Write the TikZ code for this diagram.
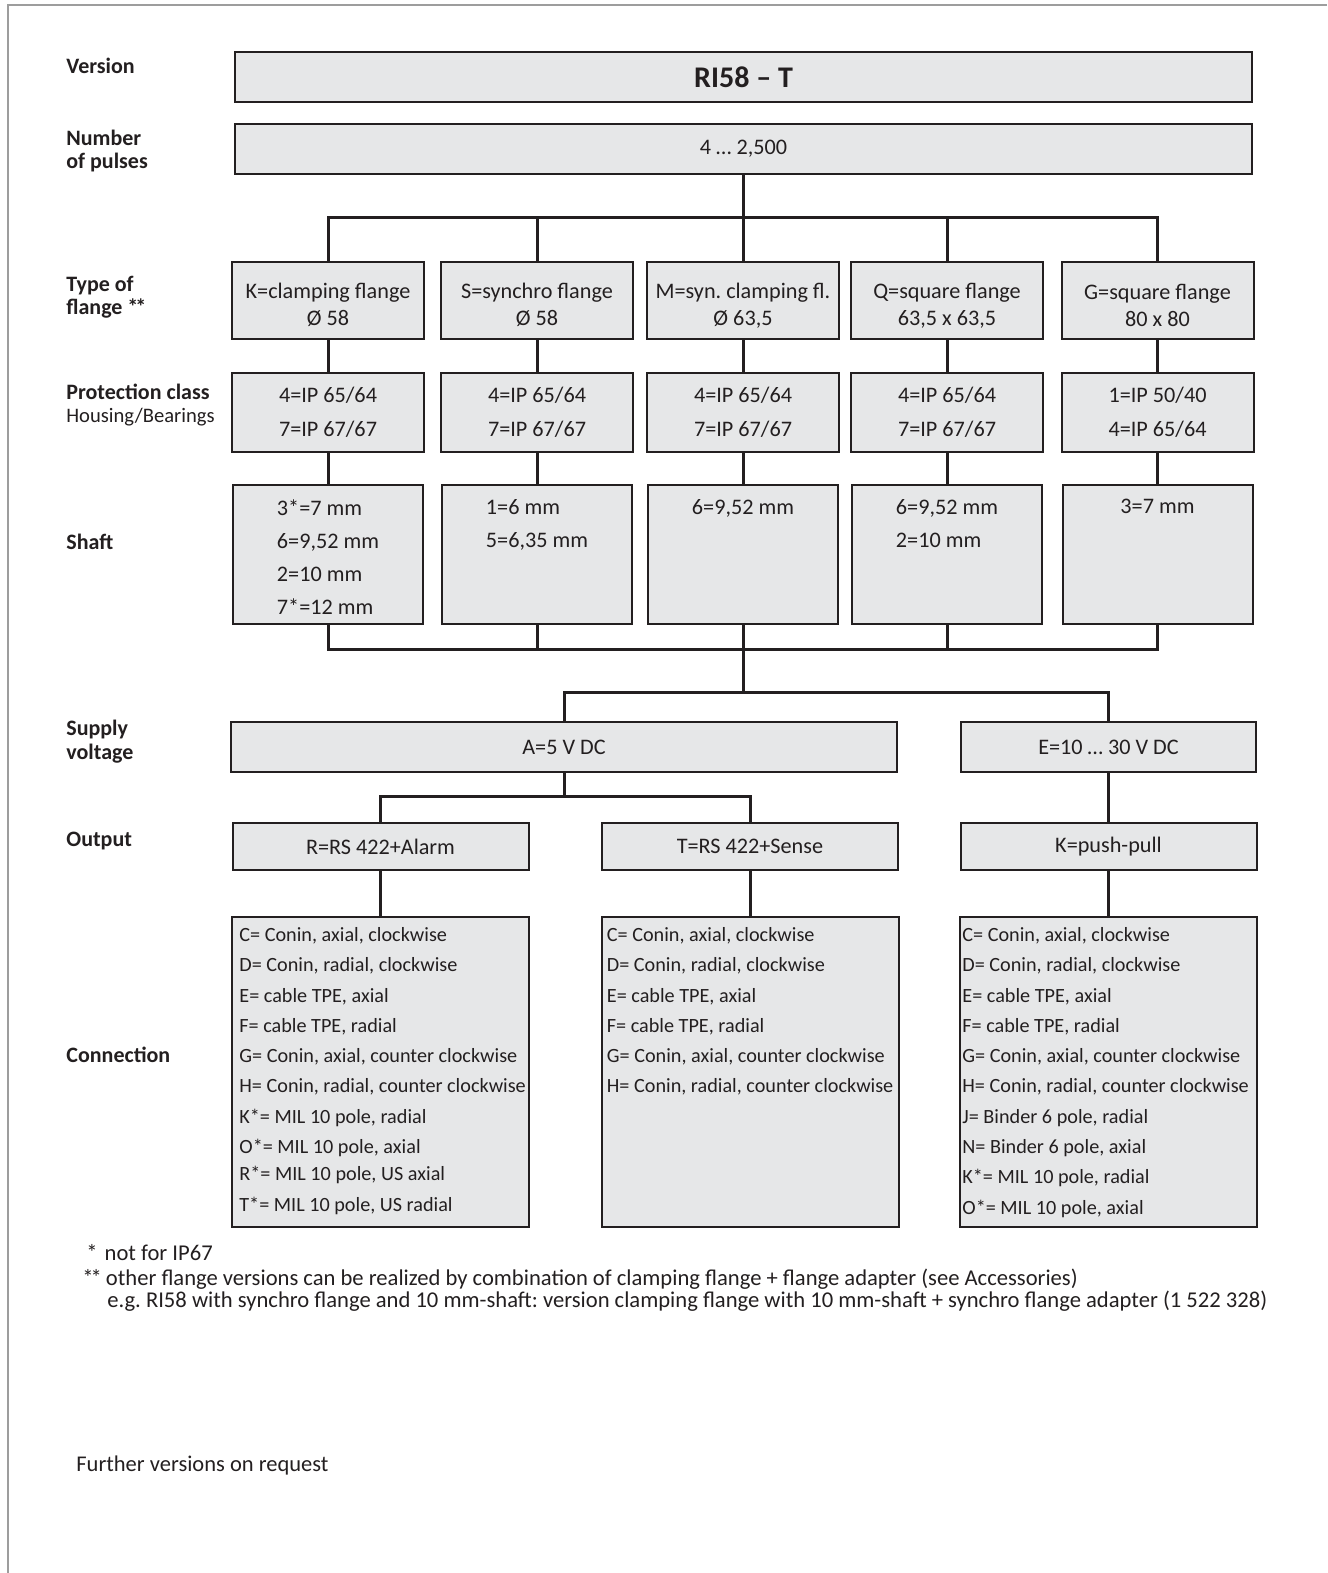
\documentclass[tikz,border=0pt]{standalone}
\usepackage{fontspec}
\setmainfont{Carlito}
\usetikzlibrary{positioning,calc}
\definecolor{rkInk}{HTML}{231F20}
\definecolor{rkFill}{HTML}{E6E7E8}
\definecolor{rkFrame}{HTML}{9D9D9D}
\frenchspacing
\tikzset{
  cell/.style={draw=rkInk, fill=rkFill, line width=1pt, inner sep=0pt, align=center, text=rkInk, font=\fontsize{11.1}{13.5}\selectfont},
  cellW/.style={cell, minimum width=508.5pt, minimum height=25pt},
  cellF/.style={cell, minimum width=96pt, minimum height=38.5pt, text height=26pt},
  cellP/.style={cell, minimum width=96pt, minimum height=39.5pt, font=\fontsize{11.1}{17}\selectfont},
  cellS/.style={cell, minimum width=95pt, minimum height=69.5pt},
  cellO/.style={cell, minimum width=148pt, minimum height=23.5pt},
  cellC/.style={cell, minimum width=148.5pt, minimum height=155pt},
  shtxt/.style={inner sep=0pt, align=left, text=rkInk, font=\fontsize{11.1}{16.5}\selectfont},
  cntxt/.style={inner sep=0pt, align=left, text=rkInk, font=\fontsize{10.1}{15.15}\selectfont},
  rowcap/.style={anchor=west, inner sep=0pt, align=left, text=rkInk, font=\fontsize{11}{11.5}\selectfont\bfseries},
  foot/.style={anchor=base west, inner sep=0pt, text=rkInk, font=\fontsize{11.3}{12}\selectfont},
  lnk/.style={draw=rkInk, line width=1.5pt},
}
\begin{document}
\begin{tikzpicture}[x=0.5pt, y=-0.5pt]
  \useasboundingbox (0,0) rectangle (1327,1573);
  \draw[rkFrame, line width=1pt] (1327,5) -- (8,5) -- (8,1573);
  % ---------- row captions ----------
  \node[rowcap] (capVer) at (66,66) {Version};
  \node[rowcap] (capPul) at (66,151) {Number\\of pulses};
  \node[rowcap] (capFl) at (66,297) {Type of\\flange *\kern-1.5pt*};
  \node[rowcap] (capPr) at (66,405) {Protection class\\{\mdseries\fontsize{10.3}{11}\selectfont Housing/Bearings}};
  \node[rowcap] (capSh) at (66,542) {Shaft};
  \node[rowcap, font=\fontsize{11}{12}\selectfont\bfseries] (capSu) at (66,742) {Supply\\voltage};
  \node[rowcap] (capOut) at (66,841) {Output};
  \node[rowcap] (capCn) at (66,1055) {Connection};
  % ---------- version and pulses ----------
  \node[cellW, font=\fontsize{15}{15}\selectfont\bfseries] (ver) at (743.5,77) {RI58 – T};
  \node[cellW] (pul) at (743.5,149) {4 … 2,500};
  \coordinate (busA) at (743.5,218);
  \draw[lnk] (pul) -- (busA);
  % ---------- flange ----------
  \node[cellF] (flK) at (328,300.5) {K=clamping flange\\Ø 58};
  \node[cellF] (flS) at (537,300.5) {S=synchro flange\\Ø 58};
  \node[cellF] (flM) at (743,300.5) {M=syn. clamping fl.\\Ø 63,5};
  \node[cellF] (flQ) at (947,300.5) {Q=square flange\\63,5 x 63,5};
  \node[cellF] (flG) at (1157.5,300.5) {G=square flange\\80 x 80};
  \draw[lnk] (flK) |- (busA); \draw[lnk] (flS) |- (busA); \draw[lnk] (flM) |- (busA);
  \draw[lnk] (flQ) |- (busA); \draw[lnk] (flG) |- (busA);
  % ---------- protection class ----------
  \node[cellP] (prK) at (328,412.5) {4=IP 65/64\\7=IP 67/67};
  \node[cellP] (prS) at (537,412.5) {4=IP 65/64\\7=IP 67/67};
  \node[cellP] (prM) at (743,412.5) {4=IP 65/64\\7=IP 67/67};
  \node[cellP] (prQ) at (947,412.5) {4=IP 65/64\\7=IP 67/67};
  \node[cellP] (prG) at (1157.5,412.5) {1=IP 50/40\\4=IP 65/64};
  \draw[lnk] (flK) -- (prK); \draw[lnk] (flS) -- (prS); \draw[lnk] (flM) -- (prM);
  \draw[lnk] (flQ) -- (prQ); \draw[lnk] (flG) -- (prG);
  % ---------- shaft ----------
  \node[cellS] (shK) at (328,554.5) {};
  \node[cellS] (shS) at (537,554.5) {};
  \node[cellS] (shM) at (743,554.5) {};
  \node[cellS] (shQ) at (947,554.5) {};
  \node[cellS] (shG) at (1157.5,554.5) {};
  \node[shtxt, below=7.5pt of shK.north] (shKt) {3*=7 mm\\6=9,52 mm\\2=10 mm\\7*=12 mm};
  \node[shtxt, below=7.5pt of shS.north] (shSt) {1=6 mm\\5=6,35 mm};
  \node[shtxt, below=7.5pt of shM.north] (shMt) {6=9,52 mm};
  \node[shtxt, below=7.5pt of shQ.north] (shQt) {6=9,52 mm\\2=10 mm};
  \node[shtxt, below=7.5pt of shG.north] (shGt) {3=7 mm};
  \draw[lnk] (prK) -- (shK); \draw[lnk] (prS) -- (shS); \draw[lnk] (prM) -- (shM);
  \draw[lnk] (prQ) -- (shQ); \draw[lnk] (prG) -- (shG);
  \coordinate (busB) at (743,649);
  \draw[lnk] (shK) |- (busB); \draw[lnk] (shS) |- (busB); \draw[lnk] (shM) -- (busB);
  \draw[lnk] (shQ) |- (busB); \draw[lnk] (shG) |- (busB);
  % ---------- supply voltage ----------
  \coordinate (busC) at (743,692);
  \draw[lnk] (busB) -- (busC);
  \node[cell, minimum width=333pt, minimum height=25pt] (suA) at (564,747) {A=5 V DC};
  \node[cell, minimum width=147.5pt, minimum height=25pt] (suE) at (1108.5,747) {E=10 … 30 V DC};
  \draw[lnk] (suA) |- (busC); \draw[lnk] (suE) |- (busC);
  % ---------- output ----------
  \node[cellO] (ouR) at (380.5,846.5) {R=RS 422+Alarm};
  \node[cellO] (ouT) at (750,846.5) {T=RS 422+Sense};
  \node[cellO] (ouK) at (1108.5,846.5) {K=push-pull};
  \coordinate (busD) at (564,796);
  \draw[lnk] (suA) -- (busD);
  \draw[lnk] (ouR) |- (busD); \draw[lnk] (ouT) |- (busD);
  \draw[lnk] (suE) -- (ouK);
  % ---------- connection ----------
  \node[cellC] (cnR) at (380.5,1072) {};
  \node[cellC] (cnT) at (750,1072) {};
  \node[cellC] (cnK) at (1108.5,1072) {};
  \draw[lnk] (ouR) -- (cnR); \draw[lnk] (ouT) -- (cnT); \draw[lnk] (ouK) -- (cnK);
  \node[cntxt, below right=5.5pt and 4pt of cnR.north west] (cnRt) {C= Conin, axial, clockwise\\D= Conin, radial, clockwise\\E= cable TPE, axial\\F= cable TPE, radial\\G= Conin, axial, counter clockwise\\H= Conin, radial, counter clockwise\\K*= MIL 10 pole, radial\\O*= MIL 10 pole, axial\\[-1.5pt]R*= MIL 10 pole, US axial\\T*= MIL 10 pole, US radial};
  \node[cntxt, below right=5.5pt and 3pt of cnT.north west] (cnTt) {C= Conin, axial, clockwise\\D= Conin, radial, clockwise\\E= cable TPE, axial\\F= cable TPE, radial\\G= Conin, axial, counter clockwise\\H= Conin, radial, counter clockwise};
  \node[cntxt, below right=5.5pt and 1.5pt of cnK.north west] (cnKt) {C= Conin, axial, clockwise\\D= Conin, radial, clockwise\\E= cable TPE, axial\\F= cable TPE, radial\\G= Conin, axial, counter clockwise\\H= Conin, radial, counter clockwise\\J= Binder 6 pole, radial\\N= Binder 6 pole, axial\\K*= MIL 10 pole, radial\\O*= MIL 10 pole, axial};
  % ---------- notes ----------
  \node[foot] (fn1) at (86,1260.5) {*\hspace{3.5pt}not for IP67};
  \node[foot] (fn2) at (82,1285.5) {*\kern-1.5pt*\hspace{2pt}other flange versions can be realized by combination of clamping flange + flange adapter (see Accessories)};
  \node[foot] (fn3) at (107,1307.5) {e.g. RI58 with synchro flange and 10 mm-shaft: version clamping flange with 10 mm-shaft + synchro flange adapter (1 522 328)};
  \node[foot, font=\fontsize{11.25}{13}\selectfont] (more) at (76,1471) {Further versions on request};
\end{tikzpicture}
\end{document}
